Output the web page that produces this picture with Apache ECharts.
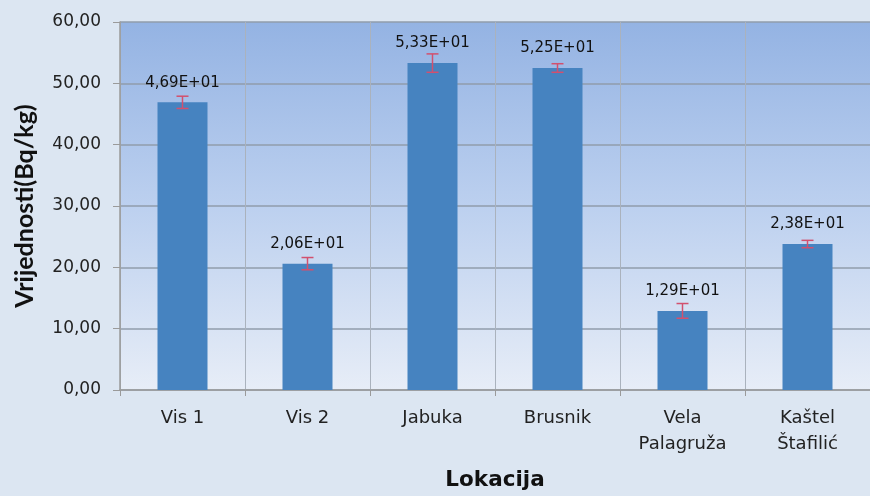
<!DOCTYPE html>
<html>
<head>
<meta charset="utf-8">
<script src="https://cdn.jsdelivr.net/npm/echarts@6/dist/echarts.min.js"></script>
<style>
  html, body { margin: 0; padding: 0; background: #dce6f2; }
  #chart { width: 870px; height: 496px; }
</style>
</head>
<body>
<div id="chart"></div>
<script>
// Mjerne lokacije i izmjerene vrijednosti (Bq/kg) sa standardnom pogreškom
const categories = ['Vis 1', 'Vis 2', 'Jabuka', 'Brusnik', 'Vela\nPalagruža', 'Kaštel\nŠtafilić'];
const values = [46.9, 20.6, 53.3, 52.5, 12.9, 23.8];
const errors = [1.0, 1.0, 1.5, 0.7, 1.2, 0.6];
const yTicks = { min: 0, max: 60, interval: 10 };

const wide = '"DejaVu Sans", sans-serif';
const narrow = 'Lato, "Open Sans", sans-serif';
const errorData = values.map((v, i) => [i, v - errors[i], v + errors[i]]);

function sci(v) {
  // npr. 46.9 -> "4,69E+01"
  const [m, e] = v.toExponential(2).split('e');
  const exp = parseInt(e, 10);
  const sign = exp < 0 ? '-' : '+';
  return m.replace('.', ',') + 'E' + sign + String(Math.abs(exp)).padStart(2, '0');
}

const chart = echarts.init(document.getElementById('chart'));
chart.setOption({
  backgroundColor: '#dce6f2',
  animation: false,
  grid: {
    left: 120, top: 22, width: 760, height: 371,
    show: true,
    borderWidth: 0,
    backgroundColor: new echarts.graphic.LinearGradient(0, 0, 0, 1, [
      { offset: 0, color: '#94b3e3' },
      { offset: 0.5, color: '#bcd0ef' },
      { offset: 1, color: '#e7edf7' }
    ])
  },
  xAxis: {
    type: 'category',
    data: categories,
    name: 'Lokacija',
    nameLocation: 'middle',
    nameGap: 79,
    nameTextStyle: { fontFamily: wide, fontSize: 21.5, fontWeight: 'bold', color: '#111' },
    axisLine: { show: true, lineStyle: { color: '#9a9a9a', width: 1.5 } },
    axisTick: { show: true, length: 6, lineStyle: { color: '#9a9a9a' } },
    splitLine: { show: true, lineStyle: { color: '#aab2bd', width: 1 } },
    axisLabel: { fontFamily: wide, fontSize: 18, color: '#222', margin: 15, lineHeight: 26 }
  },
  yAxis: {
    type: 'value',
    min: yTicks.min, max: yTicks.max, interval: yTicks.interval,
    name: 'Vrijednosti(Bq/kg)',
    nameLocation: 'middle',
    nameGap: 83,
    nameTextStyle: { fontFamily: narrow, fontSize: 25, fontWeight: 'bold', color: '#111' },
    axisLine: { show: true, lineStyle: { color: '#9a9a9a', width: 1.5 } },
    axisTick: { show: true, length: 7, lineStyle: { color: '#9a9a9a' } },
    splitLine: { show: true, lineStyle: { color: '#919cab', width: 1.5 } },
    axisLabel: {
      fontFamily: wide, fontSize: 17, color: '#222', margin: 19,
      formatter: v => v.toFixed(2).replace('.', ',')
    }
  },
  series: [
    {
      type: 'bar',
      data: values,
      barWidth: '40%',
      itemStyle: { color: '#4683c0' },
      label: {
        show: true,
        position: 'top',
        distance: 12,
        fontFamily: wide,
        fontSize: 15,
        color: '#111',
        formatter: p => sci(p.value)
      },
      z: 2
    },
    {
      type: 'custom',
      data: errorData,
      z: 3,
      renderItem: (params, api) => {
        const x = api.value(0);
        const lo = api.coord([x, api.value(1)]);
        const hi = api.coord([x, api.value(2)]);
        const w = 6;
        const style = { stroke: '#d2506e', lineWidth: 1.5 };
        return {
          type: 'group',
          children: [
            { type: 'line', shape: { x1: hi[0], y1: hi[1], x2: lo[0], y2: lo[1] }, style },
            { type: 'line', shape: { x1: hi[0] - w, y1: hi[1], x2: hi[0] + w, y2: hi[1] }, style },
            { type: 'line', shape: { x1: lo[0] - w, y1: lo[1], x2: lo[0] + w, y2: lo[1] }, style }
          ]
        };
      }
    }
  ]
});
</script>
</body>
</html>
